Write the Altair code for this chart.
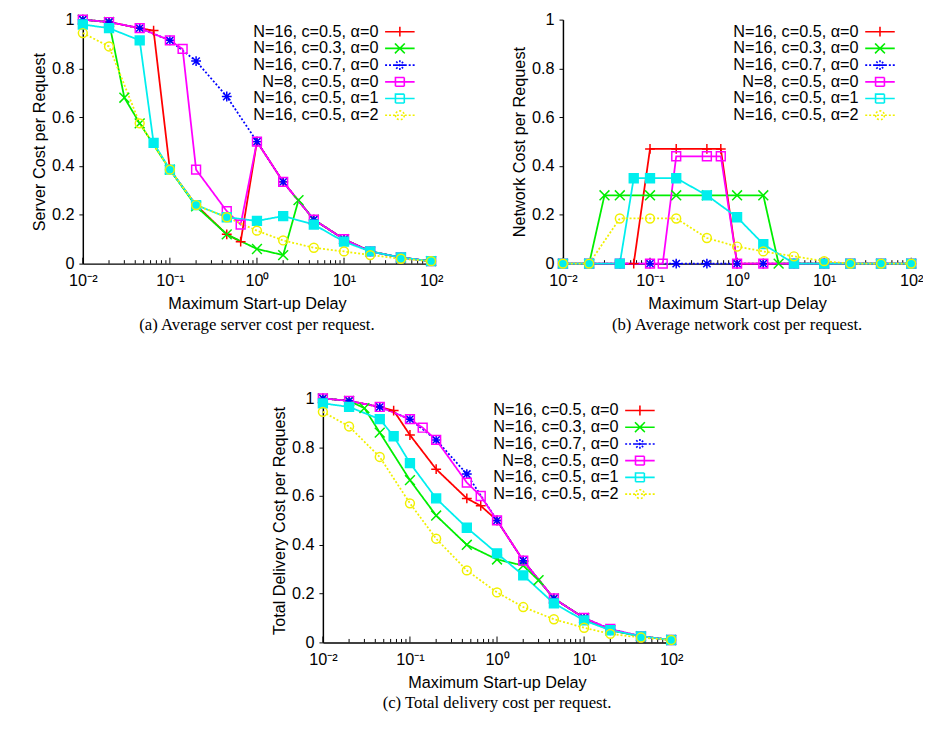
import altair as alt
import pandas as pd

# ---------------- data ----------------
series_names = [
    "N=16, c=0.5, α=0",
    "N=16, c=0.3, α=0",
    "N=16, c=0.7, α=0",
    "N=8, c=0.5, α=0",
    "N=16, c=0.5, α=1",
    "N=16, c=0.5, α=2",
]

x_red = [0.01, 0.02, 0.045, 0.065, 0.1, 0.2, 0.45, 0.65, 1, 2, 4.5, 10, 20, 45, 100]
x_green = [0.01, 0.02, 0.03, 0.045, 0.1, 0.2, 0.45, 1, 2, 3, 4.5, 10, 20, 45, 100]
x_blue = [0.01, 0.02, 0.045, 0.1, 0.2, 0.45, 1, 2, 4.5, 10, 20, 45, 100]
x_mag = [0.01, 0.02, 0.045, 0.1, 0.14, 0.2, 0.45, 0.65, 1, 2, 4.5, 10, 20, 45, 100]
x_cyan = [0.01, 0.02, 0.045, 0.065, 0.1, 0.2, 0.45, 1, 2, 4.5, 10, 20, 45, 100]
x_yel = [0.01, 0.02, 0.045, 0.1, 0.2, 0.45, 1, 2, 4.5, 10, 20, 45, 100]

# (a) server cost
red_s = [1.0, 0.99, 0.965, 0.955, 0.385, 0.24, 0.12, 0.09, 0.5, 0.335, 0.18, 0.1, 0.05, 0.025, 0.01]
green_s = [1.0, 0.99, 0.68, 0.575, 0.385, 0.235, 0.12, 0.06, 0.035, 0.26, 0.18, 0.1, 0.05, 0.025, 0.01]
blue_s = [1.0, 0.99, 0.965, 0.915, 0.83, 0.685, 0.5, 0.335, 0.18, 0.1, 0.05, 0.025, 0.01]
mag_s = [1.0, 0.99, 0.965, 0.915, 0.88, 0.385, 0.215, 0.16, 0.5, 0.335, 0.18, 0.1, 0.05, 0.025, 0.01]
cyan_s = [0.98, 0.965, 0.915, 0.495, 0.385, 0.24, 0.19, 0.175, 0.195, 0.16, 0.09, 0.05, 0.025, 0.01]
yel_s = [0.945, 0.89, 0.575, 0.385, 0.24, 0.19, 0.135, 0.095, 0.065, 0.05, 0.035, 0.02, 0.01]

# (b) network cost
red_n = [0, 0, 0, 0, 0.47, 0.47, 0.47, 0.47, 0, 0, 0, 0, 0, 0, 0]
green_n = [0, 0, 0.28, 0.28, 0.28, 0.28, 0.28, 0.28, 0.28, 0, 0, 0, 0, 0, 0]
blue_n = [0, 0, 0, 0, 0, 0, 0, 0, 0, 0, 0, 0, 0]
mag_n = [0, 0, 0, 0, 0, 0.44, 0.44, 0.44, 0, 0, 0, 0, 0, 0, 0]
cyan_n = [0, 0, 0, 0.35, 0.35, 0.35, 0.28, 0.19, 0.08, 0, 0, 0, 0, 0]
yel_n = [0, 0, 0.185, 0.185, 0.185, 0.105, 0.07, 0.05, 0.03, 0.01, 0, 0, 0]

# (c) total delivery cost
red_t = [1.0, 0.99, 0.965, 0.95, 0.85, 0.71, 0.59, 0.56, 0.5, 0.335, 0.18, 0.1, 0.05, 0.025, 0.01]
green_t = [1.0, 0.99, 0.96, 0.86, 0.665, 0.52, 0.40, 0.34, 0.315, 0.255, 0.18, 0.1, 0.05, 0.025, 0.01]
blue_t = [1.0, 0.99, 0.965, 0.915, 0.83, 0.69, 0.5, 0.335, 0.18, 0.1, 0.055, 0.025, 0.01]
mag_t = [1.0, 0.99, 0.965, 0.915, 0.88, 0.83, 0.655, 0.6, 0.5, 0.335, 0.18, 0.1, 0.055, 0.025, 0.01]
cyan_t = [0.98, 0.965, 0.915, 0.845, 0.735, 0.59, 0.47, 0.365, 0.275, 0.16, 0.09, 0.05, 0.025, 0.01]
yel_t = [0.945, 0.885, 0.76, 0.57, 0.425, 0.295, 0.205, 0.145, 0.095, 0.06, 0.035, 0.02, 0.01]

x_tick_values = [0.01, 0.1, 1, 10, 100]
x_tick_labels = ["10⁻²", "10⁻¹", "10⁰", "10¹", "10²"]
x_minor_values = [m * d for d in [0.01, 0.1, 1, 10] for m in range(2, 10)]
y_tick_values = [0, 0.2, 0.4, 0.6, 0.8, 1]

# ---------------- styles ----------------
colors = ["#ff0000", "#00ee00", "#0000ff", "#ff00ff", "#00eeee", "#f0f000"]
dashes = [[1, 0], [1, 0], [2, 2], [1, 0], [1, 0], [2, 2]]
fills = ["transparent", "transparent", "transparent", "transparent", "#00eeee", "transparent"]


def f(v):
    return f"{v:.3f}".rstrip("0").rstrip(".")


def marker_path(kind, ox=0.0):
    if kind == "plus":
        return f"M{f(ox-1)},0L{f(ox+1)},0M{f(ox)},-1L{f(ox)},1"
    if kind == "x":
        return f"M{f(ox-1)},-1L{f(ox+1)},1M{f(ox-1)},1L{f(ox+1)},-1"
    if kind == "star":
        return (f"M{f(ox-1)},0L{f(ox+1)},0M{f(ox)},-1L{f(ox)},1"
                f"M{f(ox-0.75)},-0.75L{f(ox+0.75)},0.75M{f(ox-0.75)},0.75L{f(ox+0.75)},-0.75")
    if kind == "square":
        return f"M{f(ox-0.9)},-0.9L{f(ox+0.9)},-0.9L{f(ox+0.9)},0.9L{f(ox-0.9)},0.9Z"
    return (f"M{f(ox+0.9)},0A0.9,0.9,0,1,1,{f(ox-0.9)},0"
            f"A0.9,0.9,0,1,1,{f(ox+0.9)},0Z")


marker_kinds = ["plus", "x", "star", "square", "square", "circle"]
markers = [marker_path(k) for k in marker_kinds]
# legend symbol: sample line + marker, shifted to the right of the label
LEG_SHIFT = 34  # in symbol units (1 unit = 5 px at size 100)
legend_shapes = [f"M{LEG_SHIFT-3},0L{LEG_SHIFT+3},0" + marker_path(k, LEG_SHIFT) for k in marker_kinds]

FONT = "Liberation Sans"
FS = 16.5
W, H = 354, 248

xs_list = [x_red, x_green, x_blue, x_mag, x_cyan, x_yel]


def long_df(values):
    rows = []
    for name, xs, ys in zip(series_names, xs_list, values):
        for x, y in zip(xs, ys):
            rows.append({"delay": x, "cost": y, "series": name, "key": name})
    return pd.DataFrame(rows)


label_expr = " : ".join(
    f"datum.value == {v} ? '{t}'" for v, t in zip(x_tick_values, x_tick_labels)
) + " : ''"

xscale = alt.Scale(type="log", domain=[0.01, 100], nice=False)
yscale = alt.Scale(domain=[0, 1], nice=False, zero=False)


def sc(rng):
    return alt.Scale(domain=series_names, range=rng)


def panel(values, ytitle, caption):
    df = long_df(values)
    xaxis = alt.Axis(
        values=x_tick_values, labelExpr=label_expr, title="Maximum Start-up Delay",
        ticks=False, grid=False, labelFlush=False, labelOverlap=False,
        labelPadding=9, titlePadding=7,
    )
    yaxis = alt.Axis(
        values=y_tick_values, format="~g", title=ytitle, tickSize=4,
        grid=False, labelPadding=5, titlePadding=4, labelFlush=False,
    )
    base_x = alt.X("delay:Q", scale=xscale, axis=xaxis)
    base_y = alt.Y("cost:Q", scale=yscale, axis=yaxis)

    major = alt.Chart(pd.DataFrame({"delay": x_tick_values})).mark_rule(
        color="black", strokeWidth=1
    ).encode(x=alt.X("delay:Q", scale=xscale, axis=xaxis), y=alt.value(H), y2=alt.value(H - 6))
    minor = alt.Chart(pd.DataFrame({"delay": x_minor_values})).mark_rule(
        color="black", strokeWidth=1
    ).encode(x=alt.X("delay:Q", scale=xscale, axis=xaxis), y=alt.value(H), y2=alt.value(H - 3.5))

    lines = alt.Chart(df).mark_line(strokeWidth=1.8).encode(
        x=base_x, y=base_y,
        color=alt.Color("series:N", scale=sc(colors), legend=None),
        strokeDash=alt.StrokeDash("series:N", scale=sc(dashes), legend=None),
    )
    pts = alt.Chart(df).mark_point(size=100, strokeWidth=1.5, opacity=1).encode(
        x=base_x, y=base_y,
        color=alt.Color("series:N", scale=sc(colors), legend=None),
        shape=alt.Shape("series:N", scale=sc(markers), legend=None),
        fill=alt.Fill("series:N", scale=sc(fills), legend=None),
    )
    leg = alt.Legend(
        title=None, orient="none", legendX=144, legendY=4,
        labelAlign="right", labelOffset=140, labelFont=FONT, labelFontSize=FS,
        labelColor="black", symbolSize=100, symbolStrokeWidth=1.6,
        rowPadding=0, padding=0, labelLimit=300,
    )
    # invisible carrier of the legend (kept inside the plot area)
    legend_layer = alt.Chart(df).mark_point(size=100, strokeWidth=1.6, opacity=0).encode(
        x=alt.value(0), y=alt.value(0),
        color=alt.Color("key:N", scale=sc(colors), legend=leg),
        shape=alt.Shape("key:N", scale=sc(legend_shapes), legend=leg),
        fill=alt.Fill("key:N", scale=sc(fills), legend=leg),
        strokeDash=alt.StrokeDash("key:N", scale=sc(dashes), legend=leg),
    )
    return alt.layer(minor, major, lines, pts, legend_layer).resolve_scale(
        color="independent", shape="independent", fill="independent", strokeDash="independent"
    ).properties(
        width=W, height=H,
        title=alt.TitleParams(
            text=caption, orient="bottom", font="Liberation Serif", fontSize=17,
            fontWeight="normal", color="black", offset=5, anchor="middle",
        ),
    )


pa = panel([red_s, green_s, blue_s, mag_s, cyan_s, yel_s],
           "Server Cost per Request", "(a) Average server cost per request.")
pb = panel([red_n, green_n, blue_n, mag_n, cyan_n, yel_n],
           "Network Cost per Request", "(b) Average network cost per request.")
pc = panel([red_t, green_t, blue_t, mag_t, cyan_t, yel_t],
           "Total Delivery Cost per Request", "(c) Total delivery cost per request.")

top = alt.hconcat(pa, pb, spacing=70)
chart = alt.vconcat(top, pc, spacing=59, center=True).properties(
    padding={"left": 24, "top": -2, "right": 0, "bottom": 0}
).configure(background="white").configure_view(stroke=None).configure_axis(
    labelFont=FONT, titleFont=FONT, labelFontSize=FS, titleFontSize=FS,
    titleFontWeight="normal", labelColor="black", titleColor="black",
    domainColor="black", domainWidth=1.5, tickColor="black",
)

chart.save("out.html", embed_options={"renderer": "svg", "actions": False})
